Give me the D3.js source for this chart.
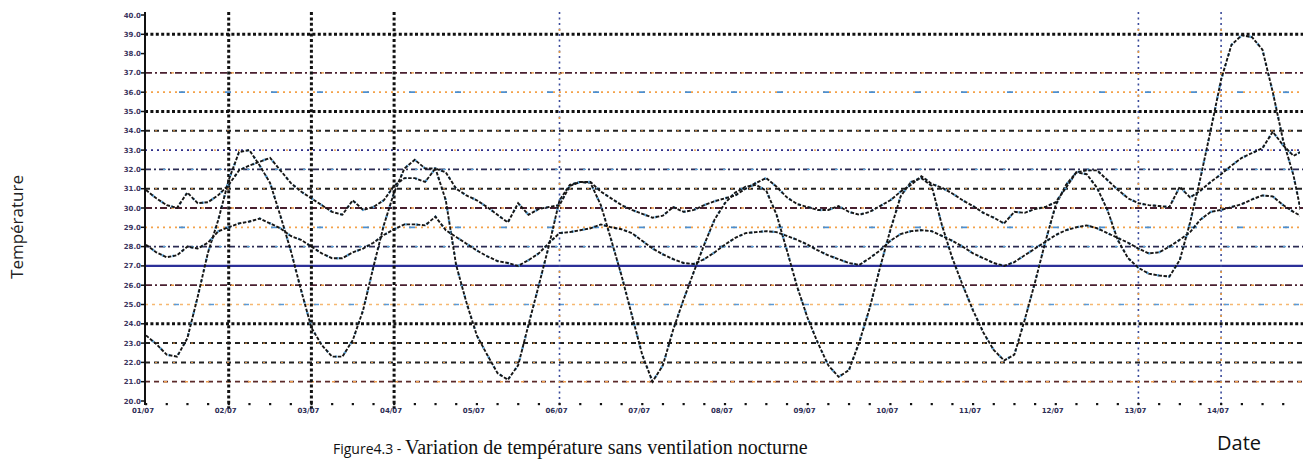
<!DOCTYPE html>
<html lang="fr">
<head>
<meta charset="utf-8">
<title>Variation de température sans ventilation nocturne</title>
<script src="https://cdn.jsdelivr.net/npm/d3@7"></script>
<style>
  body { margin: 0; background: #fff; }
  svg { display: block; }
  .ytick { font: bold 7px "DejaVu Sans", sans-serif; fill: #3b3560; }
  .xtick { font: bold 7px "DejaVu Sans", sans-serif; fill: #2d2d55; }
</style>
</head>
<body>
<div id="chart"></div>
<script>
// relevés toutes les 3 heures, 14 jours
var stepHours = 3;
var dateLabels = ["01/07", "02/07", "03/07", "04/07", "05/07", "06/07", "07/07",
                  "08/07", "09/07", "10/07", "11/07", "12/07", "13/07", "14/07"];
var yTicks = [20, 21, 22, 23, 24, 25, 26, 27, 28, 29, 30, 31, 32, 33, 34, 35, 36, 37, 38, 39, 40];
var comfortT = 27;

// température extérieure
var outdoorT = [
  23.4, 22.95, 22.4, 22.3, 23.25, 25.4, 27.7, 29.4, 31.45, 32.9,
  33.0, 32.2, 31.3, 29.6, 27.8, 25.75, 23.8, 22.9, 22.3, 22.3,
  23.15, 24.7, 26.95, 29.1, 30.8, 32.05, 32.5, 32.05, 32.05, 30.4,
  27.05, 25.1, 23.4, 22.4, 21.45, 21.1, 21.85, 23.95, 26.0, 28.1,
  30.4, 31.2, 31.35, 31.3, 30.15, 28.35, 26.5, 24.45, 22.4, 21.0,
  21.85, 23.7, 25.25, 26.7, 28.1, 29.4, 30.25, 30.8, 31.1, 31.2,
  30.9, 29.65, 27.8, 25.9, 24.3, 23.0, 21.85, 21.25, 21.6, 23.05,
  24.8, 26.9, 28.85, 30.6, 31.35, 31.55, 31.15, 29.1, 27.4, 26.0,
  24.7, 23.55, 22.65, 22.1, 22.4, 24.2, 26.15, 28.25, 30.15, 31.2,
  31.85, 31.75, 31.05, 29.9, 28.35, 27.4, 26.9, 26.6, 26.5, 26.45,
  27.3, 29.25, 31.55, 34.05, 36.65, 38.45, 38.95, 38.85, 38.2, 36.0,
  33.5, 31.7, 29.1
];

// température intérieure, zone haute
var indoorHighT = [
  30.93, 30.5, 30.15, 30.0, 30.8, 30.25, 30.3, 30.67, 31.2, 31.95,
  32.2, 32.4, 32.6, 31.95, 31.3, 30.85, 30.5, 30.15, 29.8, 29.65,
  30.4, 29.9, 30.05, 30.4, 31.15, 31.55, 31.55, 31.35, 32.05, 31.85,
  31.0, 30.65, 30.4, 30.05, 29.65, 29.25, 30.25, 29.65, 29.95, 30.05,
  30.15, 31.15, 31.35, 31.35, 30.85, 30.5, 30.15, 29.9, 29.7, 29.5,
  29.6, 30.05, 29.8, 29.9, 30.15, 30.35, 30.5, 30.65, 31.0, 31.3,
  31.55, 31.1, 30.55, 30.2, 30.05, 29.9, 29.9, 30.1, 29.8, 29.65,
  29.8, 30.1, 30.4, 30.85, 31.2, 31.65, 31.25, 31.05, 30.75, 30.4,
  30.1, 29.75, 29.5, 29.2, 29.8, 29.75, 29.95, 30.05, 30.3, 31.05,
  31.85, 31.95, 31.95, 31.45, 30.95, 30.5, 30.25, 30.15, 30.1, 30.05,
  31.1, 30.55, 30.9, 31.35, 31.75, 32.2, 32.6, 32.85, 33.1, 33.95,
  33.25, 32.7, 33.0
];

// température intérieure, zone basse
var indoorLowT = [
  28.1, 27.7, 27.45, 27.55, 28.0, 27.9, 28.2, 28.8, 29.0, 29.2,
  29.3, 29.45, 29.2, 28.95, 28.55, 28.35, 28.0, 27.65, 27.4, 27.4,
  27.7, 27.9, 28.2, 28.6, 28.9, 29.15, 29.15, 29.1, 29.55, 28.85,
  28.5, 28.15, 27.8, 27.5, 27.25, 27.15, 27.0, 27.3, 27.65, 28.2,
  28.7, 28.75, 28.85, 28.95, 29.15, 29.0, 28.9, 28.7, 28.3, 27.9,
  27.6, 27.35, 27.15, 27.1, 27.35, 27.7, 28.1, 28.45, 28.7, 28.75,
  28.8, 28.75, 28.55, 28.35, 28.1, 27.8, 27.55, 27.35, 27.15, 27.05,
  27.4, 27.8, 28.3, 28.65, 28.8, 28.85, 28.8, 28.55, 28.3, 28.0,
  27.65, 27.4, 27.15, 27.0, 27.2, 27.55, 27.9, 28.25, 28.6, 28.85,
  29.0, 29.1, 28.95, 28.7, 28.45, 28.2, 27.9, 27.65, 27.7, 28.0,
  28.35, 28.75, 29.4, 29.8, 29.9, 30.05, 30.2, 30.45, 30.65, 30.6,
  30.15, 29.8, 29.5
];

// style des lignes horizontales de la grille (par valeur)
var gridStyle = {
  39: "heavy", 37: "dashdot", 36: "orange", 35: "heavy", 34: "dash",
  33: "bluedot", 32: "dashdot2", 31: "dash", 30: "dashdot", 29: "orange",
  28: "dashdot2", 26: "dashdot", 25: "light", 24: "heavy", 23: "dash",
  22: "dash", 21: "dashred"
};
var styles = {
  heavy:    [{c: "#111", w: 3, d: "3,2.4"}],
  dash:     [{c: "#222", w: 2, d: "5,4"}, {c: "#f2a04a", w: 1, d: "2,16", o: 8}],
  dashdot:  [{c: "#4a2030", w: 1.8, d: "7,3,2,3"}, {c: "#e8953c", w: 1.4, d: "3,27", o: 4}],
  dashdot2: [{c: "#2c2c55", w: 1.8, d: "6,3,2,3"}, {c: "#5aa0d8", w: 1.4, d: "3,25", o: 10}],
  orange:   [{c: "#f4a24a", w: 1.8, d: "2,4"}, {c: "#4c8fd0", w: 1.8, d: "6,40", o: 12}],
  bluedot:  [{c: "#2e2e8a", w: 1.8, d: "2,4"}, {c: "#e89a40", w: 1.4, d: "2,22", o: 3}],
  light:    [{c: "#f6b870", w: 1.6, d: "3,4"}, {c: "#5c9ad6", w: 1.6, d: "5,30", o: 6}],
  dashred:  [{c: "#5b2a2a", w: 1.8, d: "5,4"}, {c: "#f0a050", w: 1.4, d: "3,18", o: 2}]
};

var W = 1303, H = 459;
var x = d3.scaleLinear().domain([0, 312]).range([146, 1221.1]);
var y = d3.scaleLinear().domain([20, 40]).range([401, 15]);
var x0 = 145, x1 = 1303;

var svg = d3.select("#chart").append("svg")
  .attr("width", W).attr("height", H);

// grille horizontale
yTicks.forEach(function(v) {
  var s = styles[gridStyle[v]];
  if (!s) return;
  s.forEach(function(l) {
    svg.append("line")
      .attr("x1", x0).attr("x2", x1)
      .attr("y1", y(v)).attr("y2", y(v))
      .attr("stroke", l.c).attr("stroke-width", l.w)
      .attr("stroke-dasharray", l.d)
      .attr("stroke-dashoffset", l.o || 0);
  });
});

// ligne de confort
svg.append("line")
  .attr("x1", x0).attr("x2", x1)
  .attr("y1", y(comfortT)).attr("y2", y(comfortT))
  .attr("stroke", "#2b2f98").attr("stroke-width", 2.4);

// verticales
var heavyDays = [1, 2, 3];
var lightDays = [5, 12, 13];
heavyDays.forEach(function(d) {
  svg.append("line")
    .attr("x1", x(d * 24)).attr("x2", x(d * 24))
    .attr("y1", 12).attr("y2", 409)
    .attr("stroke", "#111").attr("stroke-width", 3)
    .attr("stroke-dasharray", "3,2.4");
});
lightDays.forEach(function(d) {
  svg.append("line")
    .attr("x1", x(d * 24)).attr("x2", x(d * 24))
    .attr("y1", 12).attr("y2", 409)
    .attr("stroke", "#3a4a9a").attr("stroke-width", 1.6)
    .attr("stroke-dasharray", "2,3.5");
  svg.append("line")
    .attr("x1", x(d * 24)).attr("x2", x(d * 24))
    .attr("y1", 12).attr("y2", 409)
    .attr("stroke", "#e89a40").attr("stroke-width", 1.6)
    .attr("stroke-dasharray", "2,20").attr("stroke-dashoffset", 5);
});

// axe vertical
svg.append("line")
  .attr("x1", x0).attr("x2", x0).attr("y1", 12).attr("y2", 405)
  .attr("stroke", "#111").attr("stroke-width", 2);

svg.selectAll(".ytick").data(yTicks).enter().append("text")
  .attr("class", "ytick")
  .attr("x", 141).attr("y", function(d) { return y(d) + 2.5; })
  .attr("text-anchor", "end")
  .text(function(d) { return d.toFixed(1); });

svg.selectAll(".ytickmark").data(yTicks).enter().append("line")
  .attr("x1", 141).attr("x2", 145)
  .attr("y1", function(d) { return y(d); }).attr("y2", function(d) { return y(d); })
  .attr("stroke", "#111").attr("stroke-width", 1.5);

// graduations en bas (toutes les 6 h)
var minor = d3.range(0, 13.95 * 24, 6);
svg.selectAll(".minor").data(minor).enter().append("rect")
  .attr("x", function(d) { return x(d) - 1; })
  .attr("y", 403).attr("width", 2.2).attr("height", 2.2)
  .attr("fill", "#111");

svg.selectAll(".xtick").data(dateLabels).enter().append("text")
  .attr("class", "xtick")
  .attr("x", function(d, i) { return x(i * 24) - 3; })
  .attr("y", 413)
  .attr("text-anchor", "middle")
  .text(function(d) { return d; });

// courbes
var line = d3.line()
  .x(function(d, i) { return x(i * stepHours); })
  .y(function(d) { return y(d); });

svg.append("clipPath").attr("id", "plot")
  .append("rect").attr("x", x0).attr("y", 0).attr("width", 1300 - x0).attr("height", H);

var g = svg.append("g").attr("clip-path", "url(#plot)");
[outdoorT, indoorHighT, indoorLowT].forEach(function(s) {
  g.append("path").datum(s)
    .attr("d", line)
    .attr("fill", "none")
    .attr("stroke", "#5aa6dc").attr("stroke-width", 2.4)
    .attr("stroke-dasharray", "2,9").attr("stroke-dashoffset", 3);
  g.append("path").datum(s)
    .attr("d", line)
    .attr("fill", "none")
    .attr("stroke", "#161616").attr("stroke-width", 1.9)
    .attr("stroke-dasharray", "3.5,1.6");
});

// titres
svg.append("text")
  .attr("x", 23).attr("y", 227)
  .attr("transform", "rotate(-90,23,227)")
  .attr("text-anchor", "middle")
  .style("font", "17px 'Open Sans', sans-serif")
  .attr("fill", "#222")
  .text("Température");

svg.append("text")
  .attr("x", 1239).attr("y", 450)
  .attr("text-anchor", "middle")
  .style("font", "20px 'Open Sans', sans-serif")
  .attr("fill", "#111")
  .text("Date");

var cap = svg.append("text").attr("x", 333).attr("y", 454).attr("fill", "#111");
cap.append("tspan")
  .style("font", "14px 'Open Sans', sans-serif")
  .text("Figure4.3 -  ");
cap.append("tspan")
  .style("font", "20px 'Liberation Serif', serif")
  .text("Variation de température sans ventilation nocturne");
</script>
</body>
</html>
